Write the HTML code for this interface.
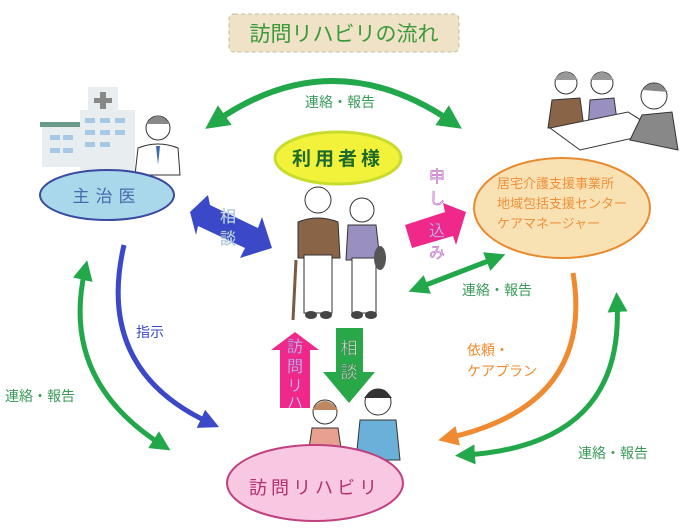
<!DOCTYPE html>
<html><head><meta charset="utf-8"><style>
html,body{margin:0;padding:0;background:#fff}
svg{display:block}
text{font-family:"Liberation Sans","Noto Sans CJK JP",sans-serif}
</style></head><body>
<svg width="699" height="532" viewBox="0 0 699 532" xmlns="http://www.w3.org/2000/svg">
<defs>
<marker id="g" viewBox="0 0 10 10" refX="5" refY="5" markerWidth="4" markerHeight="4" orient="auto-start-reverse"><path d="M0,0L10,5L0,10z" fill="#22a84a"/></marker>
<marker id="b" viewBox="0 0 10 10" refX="5" refY="5" markerWidth="4" markerHeight="4" orient="auto"><path d="M0,0L10,5L0,10z" fill="#3b48c8"/></marker>
<marker id="o" viewBox="0 0 10 10" refX="5" refY="5" markerWidth="4" markerHeight="4" orient="auto"><path d="M0,0L10,5L0,10z" fill="#f08a30"/></marker>
</defs>
<!-- title -->
<rect x="229" y="14" width="230" height="38" rx="5" fill="#efe2c6" stroke="#b8c0a0" stroke-dasharray="4,3"/>
<text x="344" y="41" font-size="21" fill="#3a9a3a" text-anchor="middle">訪問リハビリの流れ</text>
<!-- top arc -->
<path d="M215,122 Q332,40 452,122" fill="none" stroke="#22a84a" stroke-width="6" marker-start="url(#g)" marker-end="url(#g)"/>
<text x="340" y="107" font-size="14" fill="#3a9a5a" text-anchor="middle">連絡・報告</text>
<!-- hospital -->
<rect x="42" y="125" width="38" height="42" fill="#e8eef0"/>
<rect x="40" y="122" width="40" height="5" fill="#6a9a88"/>
<rect x="80" y="110" width="55" height="60" fill="#e8eef0"/>
<rect x="88" y="87" width="30" height="25" fill="#e8eef0"/>
<path d="M100,92h6v6h6v5h-6v6h-6v-6h-6v-5h6z" fill="#888"/>
<g fill="#a8c8e8"><rect x="85" y="118" width="10" height="5"/><rect x="100" y="118" width="10" height="5"/><rect x="115" y="118" width="10" height="5"/><rect x="85" y="130" width="10" height="5"/><rect x="100" y="130" width="10" height="5"/><rect x="115" y="130" width="10" height="5"/><rect x="50" y="135" width="10" height="5"/><rect x="63" y="135" width="10" height="5"/><rect x="50" y="148" width="10" height="5"/><rect x="63" y="148" width="10" height="5"/><rect x="85" y="142" width="10" height="5"/><rect x="100" y="142" width="10" height="5"/></g>
<!-- doctor -->
<circle cx="158" cy="128" r="12" fill="#fff" stroke="#333"/>
<path d="M146,124 Q158,108 170,124" fill="#888"/>
<path d="M135,175 L138,148 Q158,140 178,148 L180,175z" fill="#fff" stroke="#333"/>
<path d="M156,146 L158,165 L160,146z" fill="#3a6ab0"/>
<!-- 主治医 -->
<ellipse cx="107" cy="195" rx="67" ry="25" fill="#a8d8ea" stroke="#3a4aa0" stroke-width="2"/>
<text x="107" y="202" font-size="17" fill="#4a6ab0" text-anchor="middle" letter-spacing="6">主治医</text>
<!-- blue double arrow 相談 -->
<polygon points="190,212 208,195 210,205 258,228 262,217 272,248 240,258 245,248 198,226 196,235" fill="#3b48c8"/>
<text x="228" y="222" font-size="16" fill="#cfe0ff" stroke="#8aa" stroke-width="0.3" text-anchor="middle">相</text>
<text x="228" y="244" font-size="16" fill="#cfe0ff" stroke="#8aa" stroke-width="0.3" text-anchor="middle">談</text>
<!-- 利用者様 -->
<ellipse cx="338" cy="158" rx="63" ry="26" fill="#f2f23a" stroke="#c8dc30" stroke-width="3"/>
<text x="338" y="165" font-size="19" font-weight="bold" fill="#1e6a2a" text-anchor="middle" letter-spacing="4">利用者様</text>
<!-- elderly -->
<circle cx="318" cy="200" r="13" fill="#fff" stroke="#333"/>
<path d="M298,222 Q318,214 338,222 L340,258 L298,258z" fill="#8a6446" stroke="#333"/>
<rect x="304" y="255" width="28" height="58" fill="#fff" stroke="#333"/>
<line x1="296" y1="260" x2="293" y2="320" stroke="#7a5a40" stroke-width="3"/>
<ellipse cx="311" cy="315" rx="6" ry="4" fill="#444"/><ellipse cx="326" cy="315" rx="6" ry="4" fill="#444"/>
<circle cx="362" cy="210" r="12" fill="#fff" stroke="#333"/>
<path d="M348,225 L376,225 L380,260 L346,260z" fill="#9a90c0" stroke="#333"/>
<rect x="352" y="258" width="24" height="55" fill="#fff" stroke="#333"/>
<ellipse cx="380" cy="258" rx="6" ry="12" fill="#555"/>
<ellipse cx="357" cy="315" rx="6" ry="4" fill="#444"/><ellipse cx="371" cy="315" rx="6" ry="4" fill="#444"/>
<!-- pink 申込 -->
<polygon points="405,225 445,212 443,203 466,212 456,245 453,236 412,248" fill="#f0288a"/>
<g font-size="16" fill="#f4c0f0" stroke="#a050b0" stroke-width="0.4" text-anchor="middle"><text x="437" y="182">申</text><text x="437" y="204">し</text><text x="437" y="236">込</text><text x="437" y="258">み</text></g>
<!-- orange ellipse -->
<ellipse cx="562" cy="208" rx="88" ry="50" fill="#f8e2b4" stroke="#e88a30" stroke-width="2"/>
<g font-size="13" fill="#f0903a"><text x="497" y="188">居宅介護支援事業所</text><text x="497" y="208">地域包括支援センター</text><text x="497" y="228">ケアマネージャー</text></g>
<!-- meeting -->
<circle cx="566" cy="83" r="11" fill="#fff" stroke="#333"/><path d="M554,80 Q566,64 578,80" fill="#999"/>
<circle cx="602" cy="83" r="11" fill="#fff" stroke="#333"/><path d="M590,80 Q602,64 614,80" fill="#999"/>
<path d="M548,128 L552,100 L580,98 L584,128z" fill="#8a6446" stroke="#333"/>
<path d="M588,128 L590,100 L614,98 L618,128z" fill="#9a90c0" stroke="#333"/>
<path d="M550,128 L628,112 L660,132 L580,150z" fill="#fff" stroke="#333"/>
<circle cx="654" cy="96" r="13" fill="#fff" stroke="#333"/><path d="M642,90 Q654,76 668,92" fill="#888"/>
<path d="M630,140 L642,115 L672,112 L678,150z" fill="#888" stroke="#333"/>
<!-- green double arrow right-middle -->
<path d="M418,288 L496,258" fill="none" stroke="#22a84a" stroke-width="5" marker-start="url(#g)" marker-end="url(#g)"/>
<text x="497" y="295" font-size="14" fill="#3a9a5a" text-anchor="middle">連絡・報告</text>
<!-- left green arc -->
<path d="M85,270 Q60,380 162,445" fill="none" stroke="#22a84a" stroke-width="5" marker-start="url(#g)" marker-end="url(#g)"/>
<text x="5" y="401" font-size="14" fill="#3a9a5a">連絡・報告</text>
<!-- blue arc -->
<path d="M124,245 Q95,370 210,423" fill="none" stroke="#3b48c8" stroke-width="5" marker-end="url(#b)"/>
<text x="136" y="337" font-size="14" fill="#3b48c8">指示</text>
<!-- pink up arrow -->
<polygon points="280,408 280,350 271,350 295,332 319,350 310,350 310,408" fill="#f0288a"/>
<g font-size="16" fill="#f4c0f0" stroke="#a050b0" stroke-width="0.4" text-anchor="middle"><text x="295" y="352">訪</text><text x="295" y="372">問</text><text x="295" y="391">リ</text><text x="295" y="408">ハ</text></g>
<!-- green down arrow -->
<polygon points="336,328 363,328 363,372 375,372 349,403 323,372 336,372" fill="#28a848"/>
<g font-size="17" fill="#cfeccf" stroke="#407050" stroke-width="0.4" text-anchor="middle"><text x="349" y="354">相</text><text x="349" y="378">談</text></g>
<!-- therapists -->
<circle cx="325" cy="412" r="12" fill="#fff" stroke="#333"/><path d="M312,410 Q325,392 338,410" fill="#c08860"/>
<path d="M308,455 L312,428 L338,428 L342,455z" fill="#e8a090" stroke="#333"/>
<circle cx="378" cy="402" r="13" fill="#fff" stroke="#333"/><path d="M364,398 Q378,380 392,398" fill="#333"/>
<path d="M356,460 L360,420 L396,420 L400,460z" fill="#6ab0d8" stroke="#333"/>
<!-- pink ellipse -->
<ellipse cx="315" cy="483" rx="88" ry="38" fill="#f8c8e2" stroke="#c04080" stroke-width="2"/>
<text x="315" y="494" font-size="18" fill="#b03070" text-anchor="middle" letter-spacing="4">訪問リハビリ</text>
<!-- orange arc -->
<path d="M573,273 Q595,405 448,438" fill="none" stroke="#f08a30" stroke-width="5" marker-end="url(#o)"/>
<text x="467" y="355" font-size="14" fill="#f08a30">依頼・</text>
<text x="467" y="376" font-size="14" fill="#f08a30">ケアプラン</text>
<!-- right green arc -->
<path d="M617,302 Q625,445 465,455" fill="none" stroke="#22a84a" stroke-width="5" marker-start="url(#g)" marker-end="url(#g)"/>
<text x="578" y="458" font-size="14" fill="#3a9a5a">連絡・報告</text>
</svg>
</body></html>
